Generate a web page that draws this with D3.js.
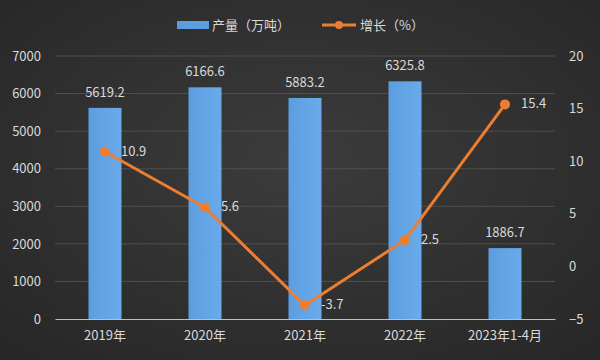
<!DOCTYPE html>
<html><head><meta charset="utf-8">
<script src="https://cdn.jsdelivr.net/npm/d3@7"></script>
<style>body{margin:0;background:#2f2f2f}svg{display:block}</style>
</head><body><svg id="c" width="600" height="360"></svg>
<script>
const categories = ["2019年","2020年","2021年","2022年","2023年1-4月"];
const output = [5619.2, 6166.6, 5883.2, 6325.8, 1886.7];
const growth = [10.9, 5.6, -3.7, 2.5, 15.4];
const leftTicks = [0,1000,2000,3000,4000,5000,6000,7000];
const rightTicks = [-5,0,5,10,15,20];

const svg = d3.select("#c");
const W=600,H=360, m={l:55,r:45,t:56,b:41};
const defs = svg.append("defs");
const bg = defs.append("radialGradient").attr("id","bg").attr("cx","50%").attr("cy","45%").attr("r","75%");
bg.append("stop").attr("offset","0%").attr("stop-color","#3c3c3c");
bg.append("stop").attr("offset","100%").attr("stop-color","#262626");
const bar = defs.append("linearGradient").attr("id","bar").attr("x1",0).attr("x2",1).attr("y1",0).attr("y2",0);
bar.append("stop").attr("offset","0%").attr("stop-color","#5b9ee0");
bar.append("stop").attr("offset","100%").attr("stop-color","#6aaaea");
svg.append("rect").attr("width",W).attr("height",H).attr("fill","url(#bg)");

const x = d3.scaleBand().domain(categories).range([m.l, W-m.r]).paddingInner(0.67).paddingOuter(0.335);
const y = d3.scaleLinear().domain([0,7000]).range([H-m.b, m.t]);
const y2 = d3.scaleLinear().domain([-5,20]).range([H-m.b, m.t]);
const xc = d => x(d)+x.bandwidth()/2;
const txt = "#d9d9d9", font = "'Noto Sans CJK SC','Noto Sans',sans-serif";

// gridlines
svg.append("g").selectAll("line").data(leftTicks.slice(1)).join("line")
  .attr("x1",m.l).attr("x2",W-m.r).attr("y1",d=>y(d)).attr("y2",d=>y(d))
  .attr("stroke","#4f4f4f").attr("stroke-width",1);

// left axis
const ga = svg.append("g").attr("transform",`translate(${m.l},0)`)
  .call(d3.axisLeft(y).tickValues(leftTicks).tickFormat(d3.format("d")).tickSize(0).tickPadding(14));
ga.select(".domain").remove();
ga.selectAll("text").attr("fill",txt).attr("font-size",13).attr("font-family",font);
// right axis
const gr = svg.append("g").attr("transform",`translate(${W-m.r},0)`)
  .call(d3.axisRight(y2).tickValues(rightTicks).tickFormat(d3.format("d")).tickSize(0).tickPadding(14));
gr.select(".domain").remove();
gr.selectAll("text").attr("fill",txt).attr("font-size",13).attr("font-family",font);
// bottom axis
const gb = svg.append("g").attr("transform",`translate(0,${H-m.b})`)
  .call(d3.axisBottom(x).tickSize(0).tickPadding(12));
gb.select(".domain").attr("stroke","#bfbfbf").attr("stroke-width",1);
gb.selectAll("text").attr("fill",txt).attr("font-size",13).attr("font-family",font);

// bars
svg.append("g").selectAll("rect").data(output).join("rect")
  .attr("x",(d,i)=>x(categories[i])).attr("width",x.bandwidth())
  .attr("y",d=>y(d)).attr("height",d=>y(0)-y(d)).attr("fill","url(#bar)");
svg.append("g").selectAll("text").data(output).join("text")
  .attr("x",(d,i)=>xc(categories[i])).attr("y",d=>y(d)-11).attr("text-anchor","middle")
  .attr("fill",txt).attr("font-size",13).attr("font-family",font).text(d=>d.toFixed(1));

// line
const line = d3.line().x((d,i)=>xc(categories[i])).y(d=>y2(d));
svg.append("path").datum(growth).attr("d",line).attr("fill","none")
  .attr("stroke","#ed7d31").attr("stroke-width",3).attr("stroke-linejoin","round");
svg.append("g").selectAll("circle").data(growth).join("circle")
  .attr("cx",(d,i)=>xc(categories[i])).attr("cy",d=>y2(d)).attr("r",5).attr("fill","#ed7d31");
svg.append("g").selectAll("text").data(growth).join("text")
  .attr("x",(d,i)=>xc(categories[i])+16).attr("y",d=>y2(d)+4)
  .attr("fill",txt).attr("font-size",13).attr("font-family",font).text(d=>d.toFixed(1));

// legend
const lg = svg.append("g").attr("font-family",font).attr("font-size",13).attr("fill",txt);
lg.append("rect").attr("x",177).attr("y",21).attr("width",32).attr("height",8).attr("fill","#5b9ee0");
lg.append("text").attr("x",212).attr("y",30).attr("fill",txt).text("产量（万吨）");
lg.append("line").attr("x1",322).attr("x2",356).attr("y1",25).attr("y2",25).attr("stroke","#ed7d31").attr("stroke-width",3);
lg.append("circle").attr("cx",339).attr("cy",25).attr("r",4).attr("fill","#ed7d31");
lg.append("text").attr("x",360).attr("y",30).attr("fill",txt).text("增长（%）");
</script></body></html>
